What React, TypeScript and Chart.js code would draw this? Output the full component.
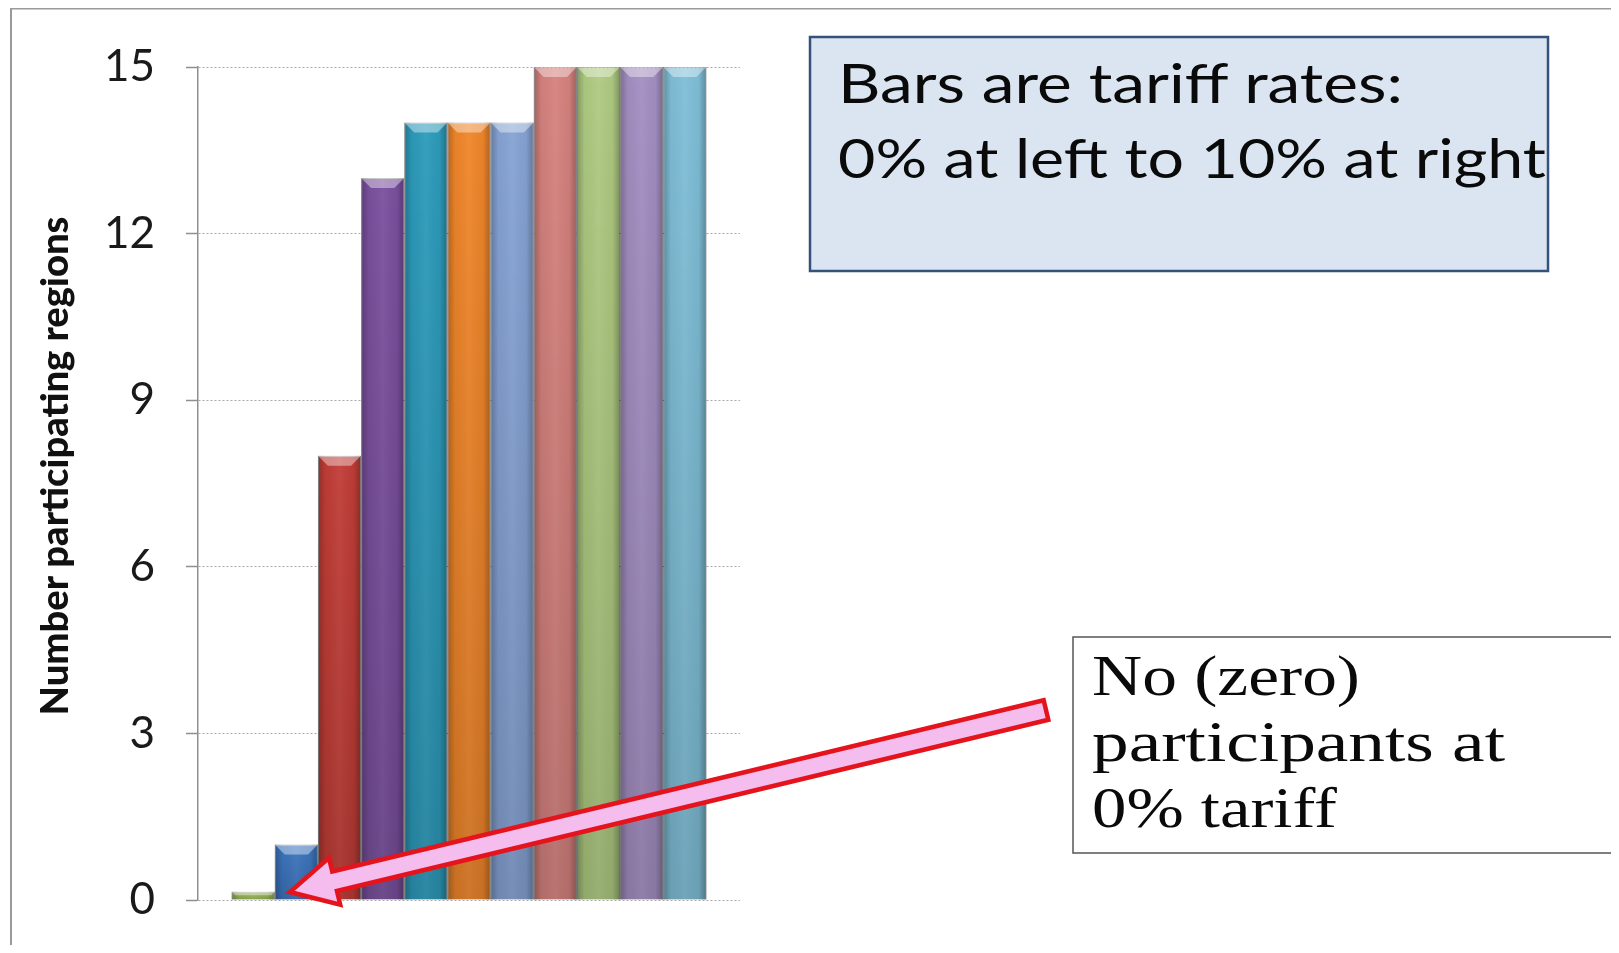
import React, { useEffect, useRef } from "react";
import { Chart, registerables } from "chart.js";
Chart.register(...registerables);

// ---- data ----
const tariffRates = ["0%", "1%", "2%", "3%", "4%", "5%", "6%", "7%", "8%", "9%", "10%"];
const participatingRegions = [0.15, 1, 8, 13, 14, 14, 14, 15, 15, 15, 15];
const barColors = ["#9bbb59", "#3d76c0", "#c13d37", "#7a509e", "#2c9bbb", "#f0862a", "#86a3d4", "#d6827e", "#afcb82", "#a48fc2", "#7fbfd8"];
const yTicks = [0, 3, 6, 9, 12, 15];
const categoryLabels = [""];
const yTitle = "Number participating regions";
const note1 = ["Bars are tariff rates:", "0% at left to 10% at right"];
const note2 = ["No (zero)", "participants at", "0% tariff"];

const bevelPlugin = {
  id: "bevel",
  afterDatasetsDraw(chart: any) {
    const ctx = chart.ctx;
    chart.data.datasets.forEach((_: any, di: number) => {
      const meta = chart.getDatasetMeta(di);
      meta.data.forEach((bar: any) => {
        const { x, y, base, width } = bar.getProps(["x", "y", "base", "width"], true);
        const left = x - width / 2;
        const h = base - y;
        if (h <= 0) return;
        ctx.save();
        const g = ctx.createLinearGradient(left, 0, left + width, 0);
        g.addColorStop(0, "rgba(0,0,0,0.25)");
        g.addColorStop(0.18, "rgba(0,0,0,0.03)");
        g.addColorStop(0.5, "rgba(255,255,255,0.05)");
        g.addColorStop(0.82, "rgba(0,0,0,0.03)");
        g.addColorStop(1, "rgba(0,0,0,0.28)");
        ctx.fillStyle = g;
        ctx.fillRect(left, y, width, h);
        const gv = ctx.createLinearGradient(0, y, 0, base);
        gv.addColorStop(0, "rgba(0,0,0,0)");
        gv.addColorStop(1, "rgba(0,0,0,0.14)");
        ctx.fillStyle = gv;
        ctx.fillRect(left, y, width, h);
        const b = Math.min(10, h * 0.45);
        ctx.beginPath();
        ctx.moveTo(left, y);
        ctx.lineTo(left + width, y);
        ctx.lineTo(left + width - b, y + b);
        ctx.lineTo(left + b, y + b);
        ctx.closePath();
        ctx.fillStyle = "rgba(255,255,255,0.4)";
        ctx.fill();
        ctx.restore();
      });
    });
  },
};

const arrowPlugin = {
  id: "arrow",
  afterDraw(chart: any) {
    const meta = chart.getDatasetMeta(0);
    const bar: any = meta.data[0];
    if (!bar) return;
    const yScale = chart.scales.y;
    const P = { x: bar.x + bar.width * 0.85, y: yScale.getPixelForValue(0) - 8 };
    const T = { x: 1038, y: 702 }; // tail, at the callout box
    const dx = P.x - T.x, dy = P.y - T.y;
    const L = Math.hypot(dx, dy);
    const d = { x: dx / L, y: dy / L };
    const n = { x: -d.y, y: d.x };
    const hs = 10, hh = 24, hl = 46;
    const H = { x: P.x - d.x * hl, y: P.y - d.y * hl };
    const pts = [
      [T.x + n.x * hs, T.y + n.y * hs],
      [H.x + n.x * hs, H.y + n.y * hs],
      [H.x + n.x * hh, H.y + n.y * hh],
      [P.x, P.y],
      [H.x - n.x * hh, H.y - n.y * hh],
      [H.x - n.x * hs, H.y - n.y * hs],
      [T.x - n.x * hs, T.y - n.y * hs],
    ];
    const ctx = chart.ctx;
    ctx.save();
    ctx.beginPath();
    pts.forEach((p, i) => (i ? ctx.lineTo(p[0], p[1]) : ctx.moveTo(p[0], p[1])));
    ctx.closePath();
    ctx.fillStyle = "#f4bdee";
    ctx.fill();
    ctx.lineWidth = 4.5;
    ctx.lineJoin = "miter";
    ctx.strokeStyle = "#e5141c";
    ctx.stroke();
    ctx.restore();
  },
};

export default function App() {
  const ref = useRef<HTMLCanvasElement>(null);
  useEffect(() => {
    document.body.style.overflow = "hidden";
    const chart = new Chart(ref.current as HTMLCanvasElement, {
      type: "bar",
      data: {
        labels: categoryLabels,
        datasets: tariffRates.map((r, i) => ({
          label: r,
          data: [participatingRegions[i]],
          backgroundColor: barColors[i],
          borderColor: "rgba(50,50,50,0.45)",
          borderWidth: 1,
          barPercentage: 1,
          categoryPercentage: 0.876,
        })),
      },
      options: {
        animation: false,
        responsive: false,
        maintainAspectRatio: false,
        layout: { padding: { left: 0, top: 59, right: 871, bottom: 45 } },
        plugins: { legend: { display: false }, tooltip: { enabled: false } },
        scales: {
          x: { display: false },
          y: {
            min: 0,
            max: 15,
            afterFit: (s: any) => {
              s.width = 190;
              s.paddingTop = 0;
              s.paddingBottom = 0;
            },
            afterBuildTicks: (s: any) => { s.ticks = yTicks.map((v) => ({ value: v })); },
            ticks: { padding: 31, color: "#1a1a1a", font: { family: "Lato", size: 44 } },
            grid: { color: "#a9a9a9", lineWidth: 1, tickLength: 12, tickColor: "#8f8f8f", tickWidth: 1.5 },
            border: { display: true, color: "#8f8f8f", width: 1.5, dash: [2, 2] },
          },
        },
      },
      plugins: [bevelPlugin, arrowPlugin],
    });
    return () => chart.destroy();
  }, []);

  return (
    <div style={{ position: "relative", width: 1603, height: 937 }}>
      <svg width={1619} height={953} style={{ position: "absolute", left: -8, top: -8 }}>
        <rect x={11} y={8.5} width={1605} height={1000} fill="#ffffff" stroke="#9a9a9a" strokeWidth={2} />
      </svg>
      <canvas ref={ref} width={1603} height={937} style={{ position: "absolute", left: 0, top: 0, width: 1603, height: 937 }} />
      <svg width={1619} height={953} style={{ position: "absolute", left: -8, top: -8, pointerEvents: "none" }}>
        <text
          transform="translate(53,466) rotate(-90)"
          textAnchor="middle"
          dominantBaseline="central"
          fontFamily="Lato"
          fontWeight={900}
          fontSize={37}
          textLength={499}
          lengthAdjust="spacingAndGlyphs"
          fill="#111"
        >
          {yTitle}
        </text>
        <rect x={810} y={37} width={738} height={234} fill="#dbe5f1" stroke="#34527a" strokeWidth={2.5} />
        <text x={838} y={103} fontFamily="Lato" fontSize={54} textLength={565} lengthAdjust="spacingAndGlyphs" fill="#0a0a0a">{note1[0]}</text>
        <text x={838} y={178} fontFamily="Lato" fontSize={54} textLength={708} lengthAdjust="spacingAndGlyphs" fill="#0a0a0a">{note1[1]}</text>
        <rect x={1073} y={637} width={542} height={216} fill="#ffffff" stroke="#555555" strokeWidth={1.5} />
        <text x={1092} y={695} fontFamily="Liberation Serif" fontSize={58} textLength={268} lengthAdjust="spacingAndGlyphs" fill="#0a0a0a">{note2[0]}</text>
        <text x={1092} y={761} fontFamily="Liberation Serif" fontSize={58} textLength={413} lengthAdjust="spacingAndGlyphs" fill="#0a0a0a">{note2[1]}</text>
        <text x={1092} y={827} fontFamily="Liberation Serif" fontSize={58} textLength={245} lengthAdjust="spacingAndGlyphs" fill="#0a0a0a">{note2[2]}</text>
      </svg>
    </div>
  );
}
